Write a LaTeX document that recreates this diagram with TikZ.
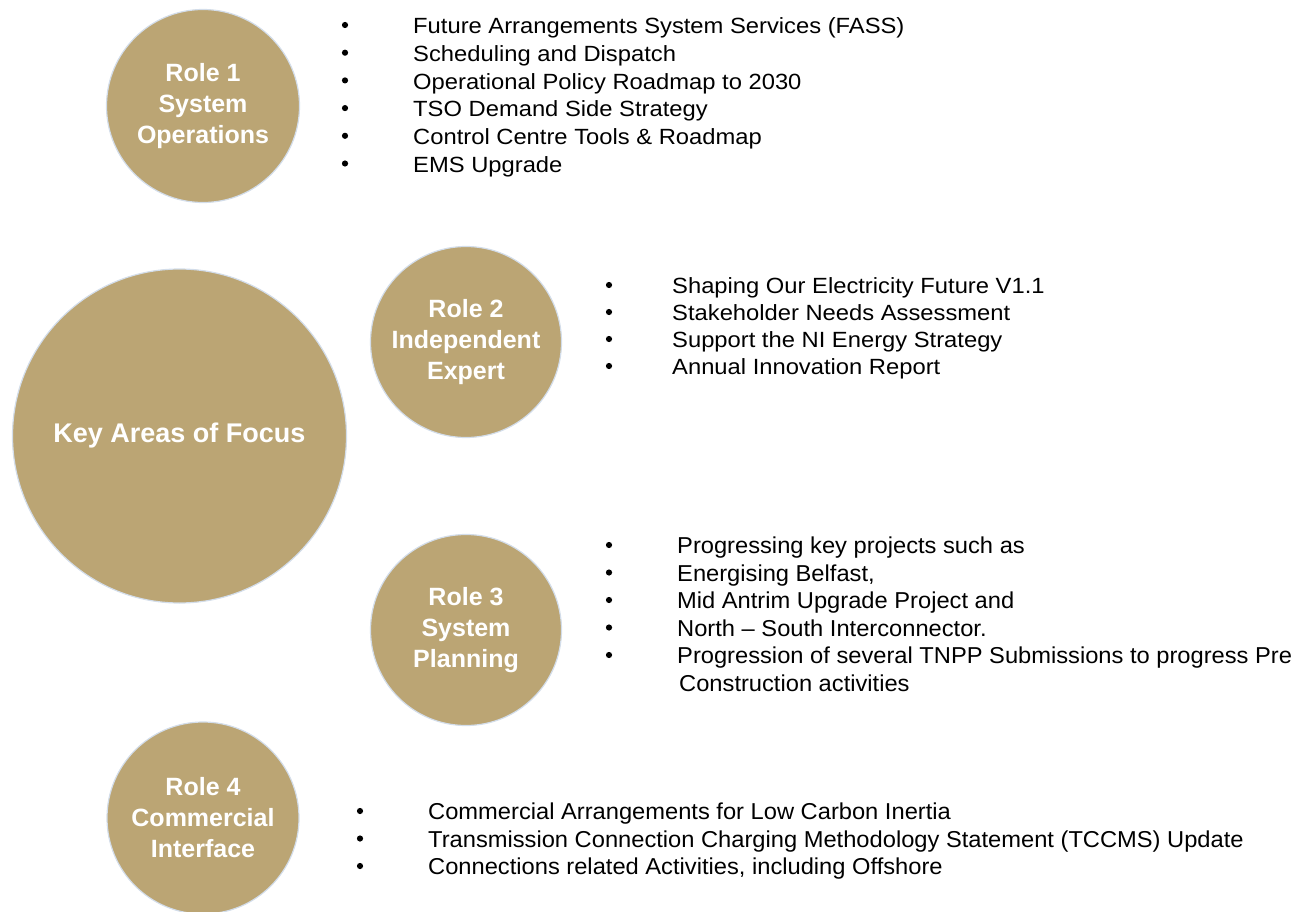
\documentclass[tikz,border=0pt]{standalone}
\usepackage{fontspec}
\setmainfont{Liberation Sans}
\usepackage{graphicx}
\definecolor{gold}{HTML}{BBA574}
\definecolor{glow}{HTML}{D3DDEA}
\tikzset{
  role/.style={circle, fill=gold, draw=glow, line width=1.2pt, inner sep=0pt, text=white, align=center,
    font=\fontsize{25}{30}\selectfont\bfseries},
  bul/.style={circle, fill=black, inner sep=0pt, minimum size=6.2pt},
  itm/.style={anchor=mid west, inner sep=0pt, font=\fontsize{22}{26}\selectfont},
  itmb/.style={anchor=mid west, inner sep=0pt, font=\fontsize{23}{27}\selectfont},
}
\newcommand{\wide}[1]{\scalebox{1.08}[1]{#1}}
\newcommand{\narrow}[1]{\scalebox{1.03}[1]{#1}}
\begin{document}
\begin{tikzpicture}[x=1pt,y=-1pt]
\useasboundingbox (0,0) rectangle (1292,912);
\node[role, minimum size=334pt, font=\fontsize{27}{32}\selectfont\bfseries] (key) at (179.5,436) {Key Areas of Focus};
\node[role, minimum size=193pt] (r1) at (203,106) {Role 1\\[1pt]System\\[1pt]Operations};
\node[role, minimum size=191pt] (r2) at (466,342) {Role 2\\[1pt]Independent\\[1pt]Expert};
\node[role, minimum size=191pt] (r3) at (466,630) {Role 3\\[1pt]System\\[1pt]Planning};
\node[role, minimum size=192pt] (r4) at (203,818) {Role 4\\[1pt]Commercial\\[1pt]Interface};
% group 1
\foreach \y/\t [count=\i] in {25/Future Arrangements System Services (FASS),52.7/Scheduling and Dispatch,80.4/Operational Policy Roadmap to 2030,108.1/TSO Demand Side Strategy,135.8/Control Centre Tools \& Roadmap,163.5/EMS Upgrade}{
  \node[bul] (b1\i) at (345,\y) {};
  \node[itm] (t1\i) at (413,\y+6) {\wide{\t}};
}
% group 2
\foreach \y/\t [count=\i] in {285/Shaping Our Electricity Future V1.1,312/Stakeholder Needs Assessment,339/Support the NI Energy Strategy,366/Annual Innovation Report}{
  \node[bul] (b2\i) at (609,\y) {};
  \node[itm] (t2\i) at (672,\y+6) {\wide{\t}};
}
% group 3
\foreach \y/\t [count=\i] in {545/Progressing key projects such as,572.5/Energising Belfast{,},600/Mid Antrim Upgrade Project and,627.5/North – South Interconnector.,655/Progression of several TNPP Submissions to progress Pre}{
  \node[bul] (b3\i) at (609,\y) {};
  \node[itmb] (t3\i) at (677,\y+6) {\narrow{\t}};
}
\node[itmb] (t36) at (679,688.5) {\narrow{Construction activities}};
% group 4
\foreach \y/\t [count=\i] in {811/Commercial Arrangements for Low Carbon Inertia,838.5/Transmission Connection Charging Methodology Statement (TCCMS) Update,866/Connections related Activities{,} including Offshore}{
  \node[bul] (b4\i) at (360,\y) {};
  \node[itmb] (t4\i) at (428,\y+6) {\narrow{\t}};
}
\end{tikzpicture}
\end{document}
